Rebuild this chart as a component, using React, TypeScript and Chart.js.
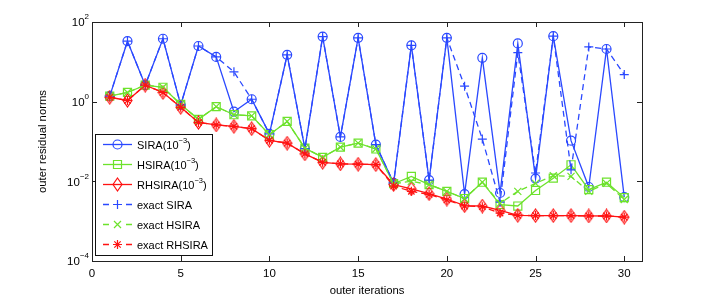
import { useEffect, useRef } from 'react';
import { Chart, registerables } from 'chart.js';

Chart.register(...registerables);

// ---------- data ----------
const iterations = [1, 2, 3, 4, 5, 6, 7, 8, 9, 10, 11, 12, 13, 14, 15, 16, 17, 18, 19, 20, 21, 22, 23, 24, 25, 26, 27, 28, 29, 30];

const sira = [1.38, 33, 2.6, 38, 0.83, 25, 13.3, 0.56, 1.15, 0.155, 15, 0.066, 43, 0.13, 40, 0.083, 0.0091, 26, 0.0107, 40, 0.0048, 12.6, 0.0051, 29, 0.0117, 44, 0.105, 0.0072, 21, 0.004];
const hsira = [1.38, 1.7, 2.6, 2.3, 0.85, 0.36, 0.75, 0.47, 0.44, 0.148, 0.32, 0.068, 0.04, 0.072, 0.091, 0.065, 0.0087, 0.0133, 0.0083, 0.0056, 0.0037, 0.0095, 0.0026, 0.0024, 0.0059, 0.012, 0.026, 0.0062, 0.0095, 0.0039];
const rhsira = [1.29, 1.07, 2.6, 1.7, 0.72, 0.3, 0.26, 0.24, 0.21, 0.107, 0.091, 0.049, 0.03, 0.0275, 0.0269, 0.0263, 0.0083, 0.0065, 0.0049, 0.0036, 0.00245, 0.0024, 0.00186, 0.0014, 0.00138, 0.00138, 0.00138, 0.00135, 0.00135, 0.00126];
const exactSira = [1.38, 33, 2.6, 38, 0.83, 25, 13.3, 5.6, 1.15, 0.155, 15, 0.066, 43, 0.13, 40, 0.083, 0.0091, 26, 0.0107, 40, 2.45, 0.115, 0.003, 17, 0.0162, 44, 0.0195, 23.7, 21, 4.8];
const exactHsira = [1.38, 1.7, 2.6, 2.3, 0.85, 0.36, 0.75, 0.47, 0.44, 0.148, 0.32, 0.068, 0.04, 0.072, 0.091, 0.065, 0.0087, 0.01, 0.0083, 0.0056, 0.0037, 0.0095, 0.0028, 0.0056, 0.0089, 0.0138, 0.0133, 0.0056, 0.0089, 0.0035];
const exactRhsira = [1.29, 1.07, 2.6, 1.7, 0.72, 0.3, 0.26, 0.24, 0.21, 0.107, 0.091, 0.049, 0.03, 0.0275, 0.0269, 0.0263, 0.0076, 0.0056, 0.0047, 0.0034, 0.0024, 0.0023, 0.0016, 0.0014, 0.00138, 0.00138, 0.00138, 0.00135, 0.00135, 0.00126];

const seriesNames = ['SIRA', 'HSIRA', 'RHSIRA', 'exact SIRA', 'exact HSIRA', 'exact RHSIRA'];
const toleranceBase = '(10';
const toleranceExponent = '−3';
const xTickValues = [0, 5, 10, 15, 20, 25, 30];
const yTickValues = [1e2, 1, 1e-2, 1e-4];
const yTickBase = '10';
const yTickExponents = ['2', '0', '−2', '−4'];
const xTitle = 'outer iterations';
const yTitle = 'outer residual norms';

// ---------- styles ----------
const BLUE = '#2a48ff';
const GREEN = '#6de22c';
const RED = '#ff1212';
const FONT = '"Liberation Sans", Arial, Helvetica, sans-serif';

type MarkerType = 'circle' | 'square' | 'diamond' | 'plus' | 'x' | 'star';

function drawMarker(ctx: CanvasRenderingContext2D, type: MarkerType, x: number, y: number, color: string) {
  ctx.save();
  ctx.strokeStyle = color;
  ctx.lineWidth = 1.2;
  ctx.setLineDash([]);
  ctx.beginPath();
  if (type === 'circle') {
    ctx.arc(x, y, 4.5, 0, Math.PI * 2);
  } else if (type === 'square') {
    ctx.rect(x - 4, y - 4, 8, 8);
  } else if (type === 'diamond') {
    ctx.moveTo(x, y - 6.5);
    ctx.lineTo(x + 4.5, y);
    ctx.lineTo(x, y + 6.5);
    ctx.lineTo(x - 4.5, y);
    ctx.closePath();
  } else if (type === 'plus') {
    ctx.moveTo(x - 4.5, y); ctx.lineTo(x + 4.5, y);
    ctx.moveTo(x, y - 4.5); ctx.lineTo(x, y + 4.5);
  } else if (type === 'x') {
    ctx.moveTo(x - 3.5, y - 3.5); ctx.lineTo(x + 3.5, y + 3.5);
    ctx.moveTo(x - 3.5, y + 3.5); ctx.lineTo(x + 3.5, y - 3.5);
  } else if (type === 'star') {
    ctx.moveTo(x - 4.5, y); ctx.lineTo(x + 4.5, y);
    ctx.moveTo(x, y - 4.5); ctx.lineTo(x, y + 4.5);
    ctx.moveTo(x - 3.2, y - 3.2); ctx.lineTo(x + 3.2, y + 3.2);
    ctx.moveTo(x - 3.2, y + 3.2); ctx.lineTo(x + 3.2, y - 3.2);
  }
  ctx.stroke();
  ctx.restore();
}

function makeDiamond(color: string): HTMLCanvasElement {
  const c = document.createElement('canvas');
  c.width = 11;
  c.height = 15;
  const g = c.getContext('2d')!;
  drawMarker(g, 'diamond', 5.5, 7.5, color);
  return c;
}

const legendEntries: { name: string; tol: boolean; color: string; marker: MarkerType; dashed: boolean }[] = [
  { name: seriesNames[0], tol: true, color: BLUE, marker: 'circle', dashed: false },
  { name: seriesNames[1], tol: true, color: GREEN, marker: 'square', dashed: false },
  { name: seriesNames[2], tol: true, color: RED, marker: 'diamond', dashed: false },
  { name: seriesNames[3], tol: false, color: BLUE, marker: 'plus', dashed: true },
  { name: seriesNames[4], tol: false, color: GREEN, marker: 'x', dashed: true },
  { name: seriesNames[5], tol: false, color: RED, marker: 'star', dashed: true },
];

const framePlugin = {
  id: 'matlabFrame',
  afterDraw(chart: any) {
    const ctx: CanvasRenderingContext2D = chart.ctx;
    const { left, right, top, bottom } = chart.chartArea;
    const xs = chart.scales.x;
    const ys = chart.scales.y;
    ctx.save();
    ctx.setLineDash([]);

    // box
    ctx.strokeStyle = '#222';
    ctx.lineWidth = 1;
    ctx.strokeRect(Math.round(left) + 0.5, Math.round(top) + 0.5, Math.round(right - left), Math.round(bottom - top));

    // ticks
    ctx.beginPath();
    const tl = 5;
    xTickValues.forEach((v) => {
      const px = Math.round(xs.getPixelForValue(v)) + 0.5;
      ctx.moveTo(px, bottom); ctx.lineTo(px, bottom - tl);
      ctx.moveTo(px, top); ctx.lineTo(px, top + tl);
    });
    yTickValues.forEach((v) => {
      const py = Math.round(ys.getPixelForValue(v)) + 0.5;
      ctx.moveTo(left, py); ctx.lineTo(left + tl, py);
      ctx.moveTo(right, py); ctx.lineTo(right - tl, py);
    });
    ctx.stroke();

    // x tick labels
    ctx.fillStyle = '#000';
    ctx.font = `11.5px ${FONT}`;
    ctx.textAlign = 'center';
    ctx.textBaseline = 'middle';
    xTickValues.forEach((v) => {
      ctx.fillText(String(v), xs.getPixelForValue(v), bottom + 13);
    });

    // y tick labels with superscripts
    yTickValues.forEach((v, i) => {
      const py = ys.getPixelForValue(v);
      ctx.font = `11.5px ${FONT}`;
      const wb = ctx.measureText(yTickBase).width;
      ctx.font = `8px ${FONT}`;
      const ws = ctx.measureText(yTickExponents[i]).width;
      const xEnd = left - 3;
      ctx.textAlign = 'left';
      ctx.textBaseline = 'middle';
      ctx.font = `11.5px ${FONT}`;
      ctx.fillText(yTickBase, xEnd - wb - ws, py + 1);
      ctx.font = `8px ${FONT}`;
      ctx.fillText(yTickExponents[i], xEnd - ws, py - 5);
    });

    // axis titles
    ctx.font = `11.3px ${FONT}`;
    ctx.textAlign = 'center';
    ctx.textBaseline = 'middle';
    ctx.fillText(xTitle, (left + right) / 2, bottom + 30);
    ctx.save();
    ctx.translate(35, (top + bottom) / 2);
    ctx.rotate(-Math.PI / 2);
    ctx.fillText(yTitle, 0, 0);
    ctx.restore();

    // legend
    const lx = left + 3;
    const ly = top + 112;
    const lw = 117;
    const lh = 121;
    ctx.fillStyle = '#fff';
    ctx.fillRect(lx, ly, lw, lh);
    ctx.strokeStyle = '#111';
    ctx.lineWidth = 1;
    ctx.strokeRect(Math.round(lx) + 0.5, Math.round(ly) + 0.5, lw, lh);
    legendEntries.forEach((e, i) => {
      const cy = ly + 10.5 + i * 20;
      const x0 = lx + 8;
      const x1 = lx + 37;
      const mx = (x0 + x1) / 2;
      ctx.save();
      ctx.strokeStyle = e.color;
      ctx.lineWidth = 1.3;
      if (e.dashed) {
        ctx.beginPath();
        ctx.moveTo(x0, cy); ctx.lineTo(x0 + 6, cy);
        ctx.moveTo(x1 - 6, cy); ctx.lineTo(x1, cy);
        ctx.stroke();
      } else {
        ctx.beginPath();
        ctx.moveTo(x0, cy); ctx.lineTo(x1, cy);
        ctx.stroke();
      }
      ctx.restore();
      drawMarker(ctx, e.marker, mx, cy, e.color);
      ctx.fillStyle = '#000';
      ctx.textAlign = 'left';
      ctx.textBaseline = 'middle';
      ctx.font = `11px ${FONT}`;
      let tx = lx + 42;
      const main = e.tol ? e.name + toleranceBase : e.name;
      ctx.fillText(main, tx, cy + 1);
      if (e.tol) {
        tx += ctx.measureText(main).width;
        ctx.font = `7.5px ${FONT}`;
        ctx.fillText(toleranceExponent, tx, cy - 4);
        tx += ctx.measureText(toleranceExponent).width;
        ctx.font = `11px ${FONT}`;
        ctx.fillText(')', tx, cy + 1);
      }
    });

    ctx.restore();
  },
};

export default function App() {
  const ref = useRef<HTMLCanvasElement | null>(null);

  useEffect(() => {
    if (!ref.current) return;
    const diamond = makeDiamond(RED);
    const pts = (arr: number[]) => iterations.map((x, i) => ({ x, y: arr[i] }));
    const base = { showLine: true, borderWidth: 1.3, pointBorderWidth: 1.2, pointBackgroundColor: 'rgba(0,0,0,0)', tension: 0 };
    const chart = new Chart(ref.current, {
      type: 'scatter',
      data: {
        datasets: [
          { ...base, label: seriesNames[0], data: pts(sira), borderColor: BLUE, pointBorderColor: BLUE, pointStyle: 'circle', pointRadius: 4.5, order: 6 },
          { ...base, label: seriesNames[1], data: pts(hsira), borderColor: GREEN, pointBorderColor: GREEN, pointStyle: 'rect', pointRadius: 5.7, order: 5 },
          { ...base, label: seriesNames[2], data: pts(rhsira), borderColor: RED, pointBorderColor: RED, pointStyle: diamond as any, pointRadius: 6, order: 4 },
          { ...base, label: seriesNames[3], data: pts(exactSira), borderColor: BLUE, pointBorderColor: BLUE, pointStyle: 'cross', pointRadius: 4.5, borderDash: [6, 4], order: 3 },
          { ...base, label: seriesNames[4], data: pts(exactHsira), borderColor: GREEN, pointBorderColor: GREEN, pointStyle: 'crossRot', pointRadius: 5, borderDash: [6, 4], order: 2 },
          { ...base, label: seriesNames[5], data: pts(exactRhsira), borderColor: RED, pointBorderColor: RED, pointStyle: 'star', pointRadius: 4.5, borderDash: [6, 4], order: 1 },
        ] as any,
      },
      options: {
        animation: false,
        responsive: false,
        events: [],
        layout: { padding: { left: 84, top: 14, right: 58, bottom: 39 } },
        plugins: { legend: { display: false }, tooltip: { enabled: false } },
        scales: {
          x: { type: 'linear', min: 0, max: 31, display: false },
          y: { type: 'logarithmic', min: 1e-4, max: 1e2, display: false },
        },
      },
      plugins: [framePlugin],
    });
    return () => chart.destroy();
  }, []);

  return (
    <div style={{ width: 692, height: 292 }}>
      <canvas ref={ref} width={692} height={292} style={{ display: 'block', width: 692, height: 292 }} />
    </div>
  );
}
